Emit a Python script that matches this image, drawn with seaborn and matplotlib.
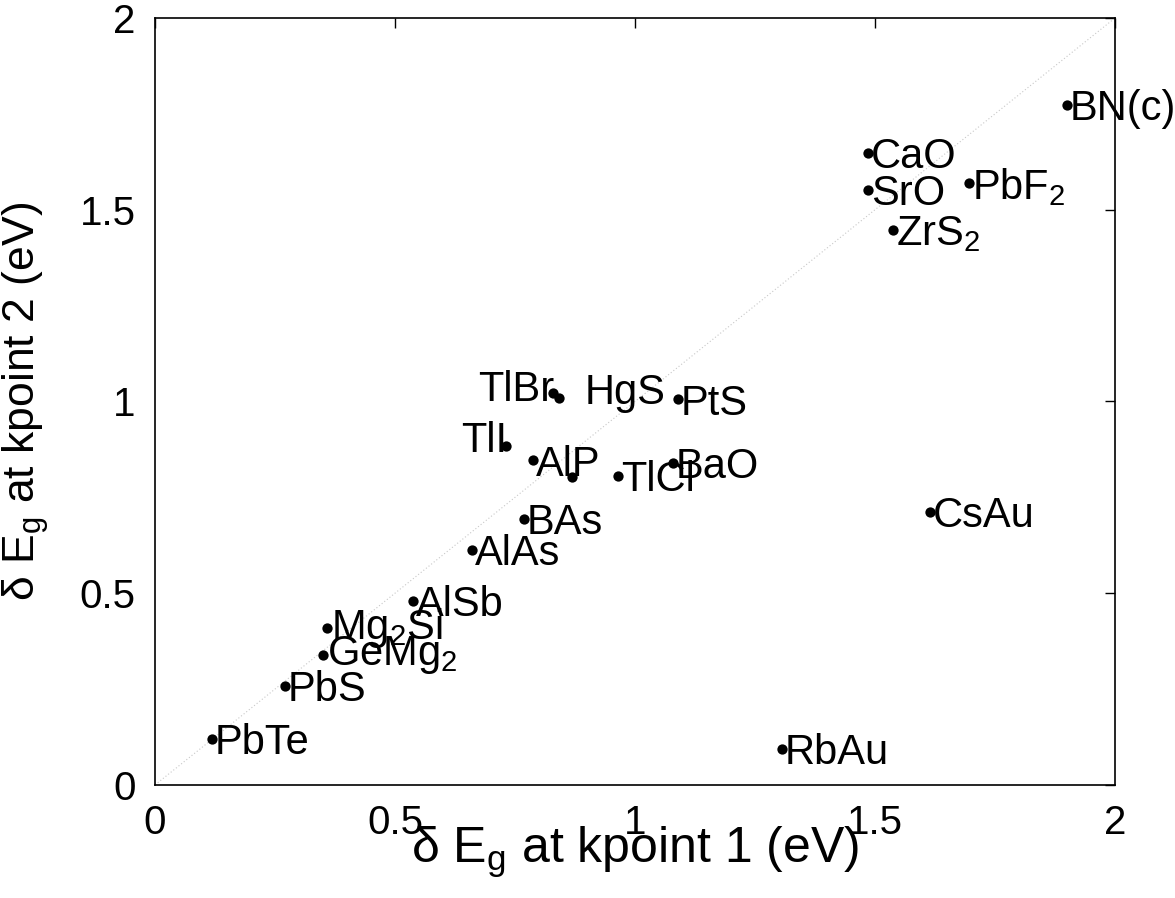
import matplotlib
matplotlib.use("Agg")
import matplotlib.pyplot as plt
import seaborn as sns
import pandas as pd

# Band-gap corrections at two k-points (eV)
compounds = ["BN(c)", "CaO", "PbF$_2$", "SrO", "ZrS$_2$", "TlBr", "HgS", "PtS",
             "TlI", "AlP", "", "TlCl", "BaO", "BAs", "AlAs", "CsAu", "RbAu",
             "AlSb", "Mg$_2$Si", "GeMg$_2$", "PbS", "PbTe"]
dEg_k1 = [1.900, 1.485, 1.696, 1.485, 1.537, 0.829, 0.842, 1.090,
          0.731, 0.788, 0.869, 0.965, 1.079, 0.769, 0.660, 1.615, 1.306,
          0.537, 0.358, 0.350, 0.271, 0.119]
dEg_k2 = [1.773, 1.648, 1.570, 1.552, 1.448, 1.023, 1.010, 1.005,
          0.883, 0.846, 0.802, 0.805, 0.839, 0.693, 0.612, 0.711, 0.094,
          0.479, 0.409, 0.339, 0.258, 0.120]

x_ticks = [0, 0.5, 1, 1.5, 2]
y_ticks = [0, 0.5, 1, 1.5, 2]
x_ticklabels = ["0", "0.5", "1", "1.5", "2"]
y_ticklabels = ["0", "0.5", "1", "1.5", "2"]

# label placement: offset in points and horizontal alignment
label_offset = {"TlBr": (1, 2, "right"), "TlI": (1, 4, "right"),
                "HgS": (18, 3, "left"), "Mg$_2$Si": (3, 0, "left"),
                "GeMg$_2$": (3, 0, "left")}

df = pd.DataFrame({"compound": compounds, "k1": dEg_k1, "k2": dEg_k2})

sns.set_theme(style="white")
plt.rcParams["font.family"] = ["Liberation Sans", "DejaVu Sans"]
plt.rcParams["mathtext.default"] = "regular"

fig = plt.figure(figsize=(11.75, 8.98), dpi=100)
ax = fig.add_axes([0.132, 0.126, 0.817, 0.854])

ax.plot([0, 2], [0, 2], ls=(0, (1, 2)), color="#c8c8c8", lw=0.8, zorder=1)
sns.scatterplot(data=df, x="k1", y="k2", ax=ax, color="black", s=55,
                edgecolor="black", linewidth=0, zorder=3, legend=False)

for name, xv, yv in zip(df["compound"], df["k1"], df["k2"]):
    if not name:
        continue
    dx, dy, ha = label_offset.get(name, (2, -3, "left"))
    ax.annotate(name, (xv, yv), xytext=(dx, dy), textcoords="offset points",
                ha=ha, va="center", fontsize=30, color="black", zorder=4)

ax.set_xlim(0, 2)
ax.set_ylim(0, 2)
ax.set_xticks(x_ticks)
ax.set_xticklabels(x_ticklabels)
ax.set_yticks(y_ticks)
ax.set_yticklabels(y_ticklabels)
ax.tick_params(direction="in", length=7, width=1, top=True, right=True,
               labelsize=29, colors="black", pad=14)
for sp in ax.spines.values():
    sp.set_visible(True)
    sp.set_color("black")
    sp.set_linewidth(1.2)

ax.set_xlabel("δ E$_g$ at kpoint 1 (eV)", fontsize=36, color="black")
ax.set_ylabel("δ E$_g$ at kpoint 2 (eV)", fontsize=32, color="black")
ax.xaxis.set_label_coords(0.5, -0.052)
ax.yaxis.set_label_coords(-0.108, 0.5)

fig.savefig("out.png", dpi=100, facecolor="white")
